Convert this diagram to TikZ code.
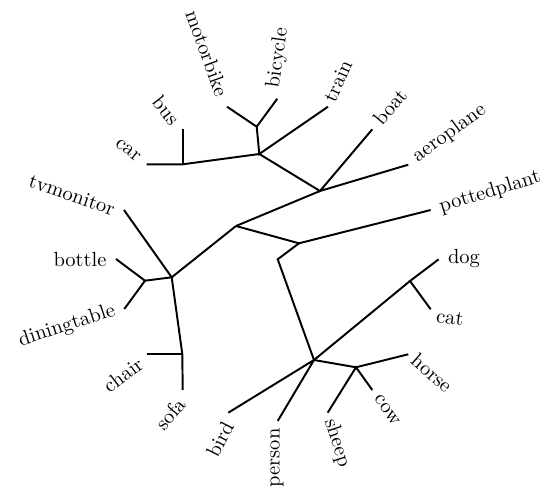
\documentclass[tikz,border=0pt]{standalone}
\begin{document}
\begin{tikzpicture}[x=0.488pt,y=-0.488pt,
  edge/.style={line width=0.95pt},
  lbl/.style={inner sep=0pt, outer sep=0pt}]
\useasboundingbox (0,0) rectangle (546,490);
% internal nodes
\coordinate (nA) at (259.3,154);
\coordinate (nCB) at (182.7,164.3);
\coordinate (nMB) at (256.7,126.7);
\coordinate (nB) at (320,191);
\coordinate (nD) at (236,226);
\coordinate (nE) at (171.7,277.3);
\coordinate (nBD) at (145,280.7);
\coordinate (nCS) at (182.3,354);
\coordinate (nC) at (299,243.3);
\coordinate (nK) at (277.7,259.3);
\coordinate (nF) at (314,360);
\coordinate (nDC) at (410,281);
\coordinate (nHC) at (356,367.3);
% leaf ends
\coordinate (lcar) at (146.7,164.3);
\coordinate (lbus) at (182.7,128.7);
\coordinate (lmotorbike) at (227,106.7);
\coordinate (lbicycle) at (277.3,98.7);
\coordinate (ltrain) at (328,106.7);
\coordinate (lboat) at (372.3,129.3);
\coordinate (laeroplane) at (408.3,164.7);
\coordinate (lpottedplant) at (430.7,210);
\coordinate (ldog) at (438.7,259.3);
\coordinate (lcat) at (430.7,309.3);
\coordinate (lhorse) at (408.3,354.3);
\coordinate (lcow) at (372.3,390);
\coordinate (lsheep) at (327.7,412.7);
\coordinate (lperson) at (277.7,421);
\coordinate (lbird) at (228.3,412.7);
\coordinate (lsofa) at (182.7,390);
\coordinate (lchair) at (146.7,354);
\coordinate (ldiningtable) at (124.3,309);
\coordinate (lbottle) at (116,259);
\coordinate (ltvmonitor) at (124,210);
% labels
\node[lbl,rotate=-38] (car) at (128,150) {car};
\node[lbl,rotate=-52] (bus) at (166,110) {bus};
\node[lbl,rotate=-70] (motorbike) at (207,53) {motorbike};
\node[lbl,rotate=82] (bicycle) at (278,58) {bicycle};
\node[lbl,rotate=66] (train) at (338,81) {train};
\node[lbl,rotate=50] (boat) at (390,107) {boat};
\node[lbl,rotate=36] (aeroplane) at (449.5,133) {aeroplane};
\node[lbl,rotate=17] (pottedplant) at (490,192) {pottedplant};
\node[lbl] (dog) at (464,259) {dog};
\node[lbl,rotate=-8] (cat) at (450,318) {cat};
\node[lbl,rotate=-41] (horse) at (432,373) {horse};
\node[lbl,rotate=-55] (cow) at (387,410) {cow};
\node[lbl,rotate=-72] (sheep) at (337,443) {sheep};
\node[lbl,rotate=90] (person) at (277,458) {person};
\node[lbl,rotate=63] (bird) at (220,439) {bird};
\node[lbl,rotate=50] (sofa) at (170,414) {sofa};
\node[lbl,rotate=37] (chair) at (123,375) {chair};
\node[lbl,rotate=18] (diningtable) at (67,326) {diningtable};
\node[lbl] (bottle) at (80,260) {bottle};
\node[lbl,rotate=-19] (tvmonitor) at (72,195) {tvmonitor};
% edges
\draw[edge] (lcar) -- (nCB) -- (nA);
\draw[edge] (lbus) -- (nCB);
\draw[edge] (lmotorbike) -- (nMB) -- (lbicycle);
\draw[edge] (nMB) -- (nA) -- (ltrain);
\draw[edge] (nA) -- (nB);
\draw[edge] (lboat) -- (nB) -- (laeroplane);
\draw[edge] (nB) -- (nD);
\draw[edge] (nD) -- (nE);
\draw[edge] (nD) -- (nC) -- (lpottedplant);
\draw[edge] (nC) -- (nK) -- (nF);
\draw[edge] (ltvmonitor) -- (nE) -- (nBD);
\draw[edge] (lbottle) -- (nBD) -- (ldiningtable);
\draw[edge] (nE) -- (nCS) -- (lsofa);
\draw[edge] (lchair) -- (nCS);
\draw[edge] (lbird) -- (nF) -- (lperson);
\draw[edge] (nF) -- (nDC);
\draw[edge] (ldog) -- (nDC) -- (lcat);
\draw[edge] (nF) -- (nHC) -- (lhorse);
\draw[edge] (lcow) -- (nHC) -- (lsheep);
\end{tikzpicture}
\end{document}
